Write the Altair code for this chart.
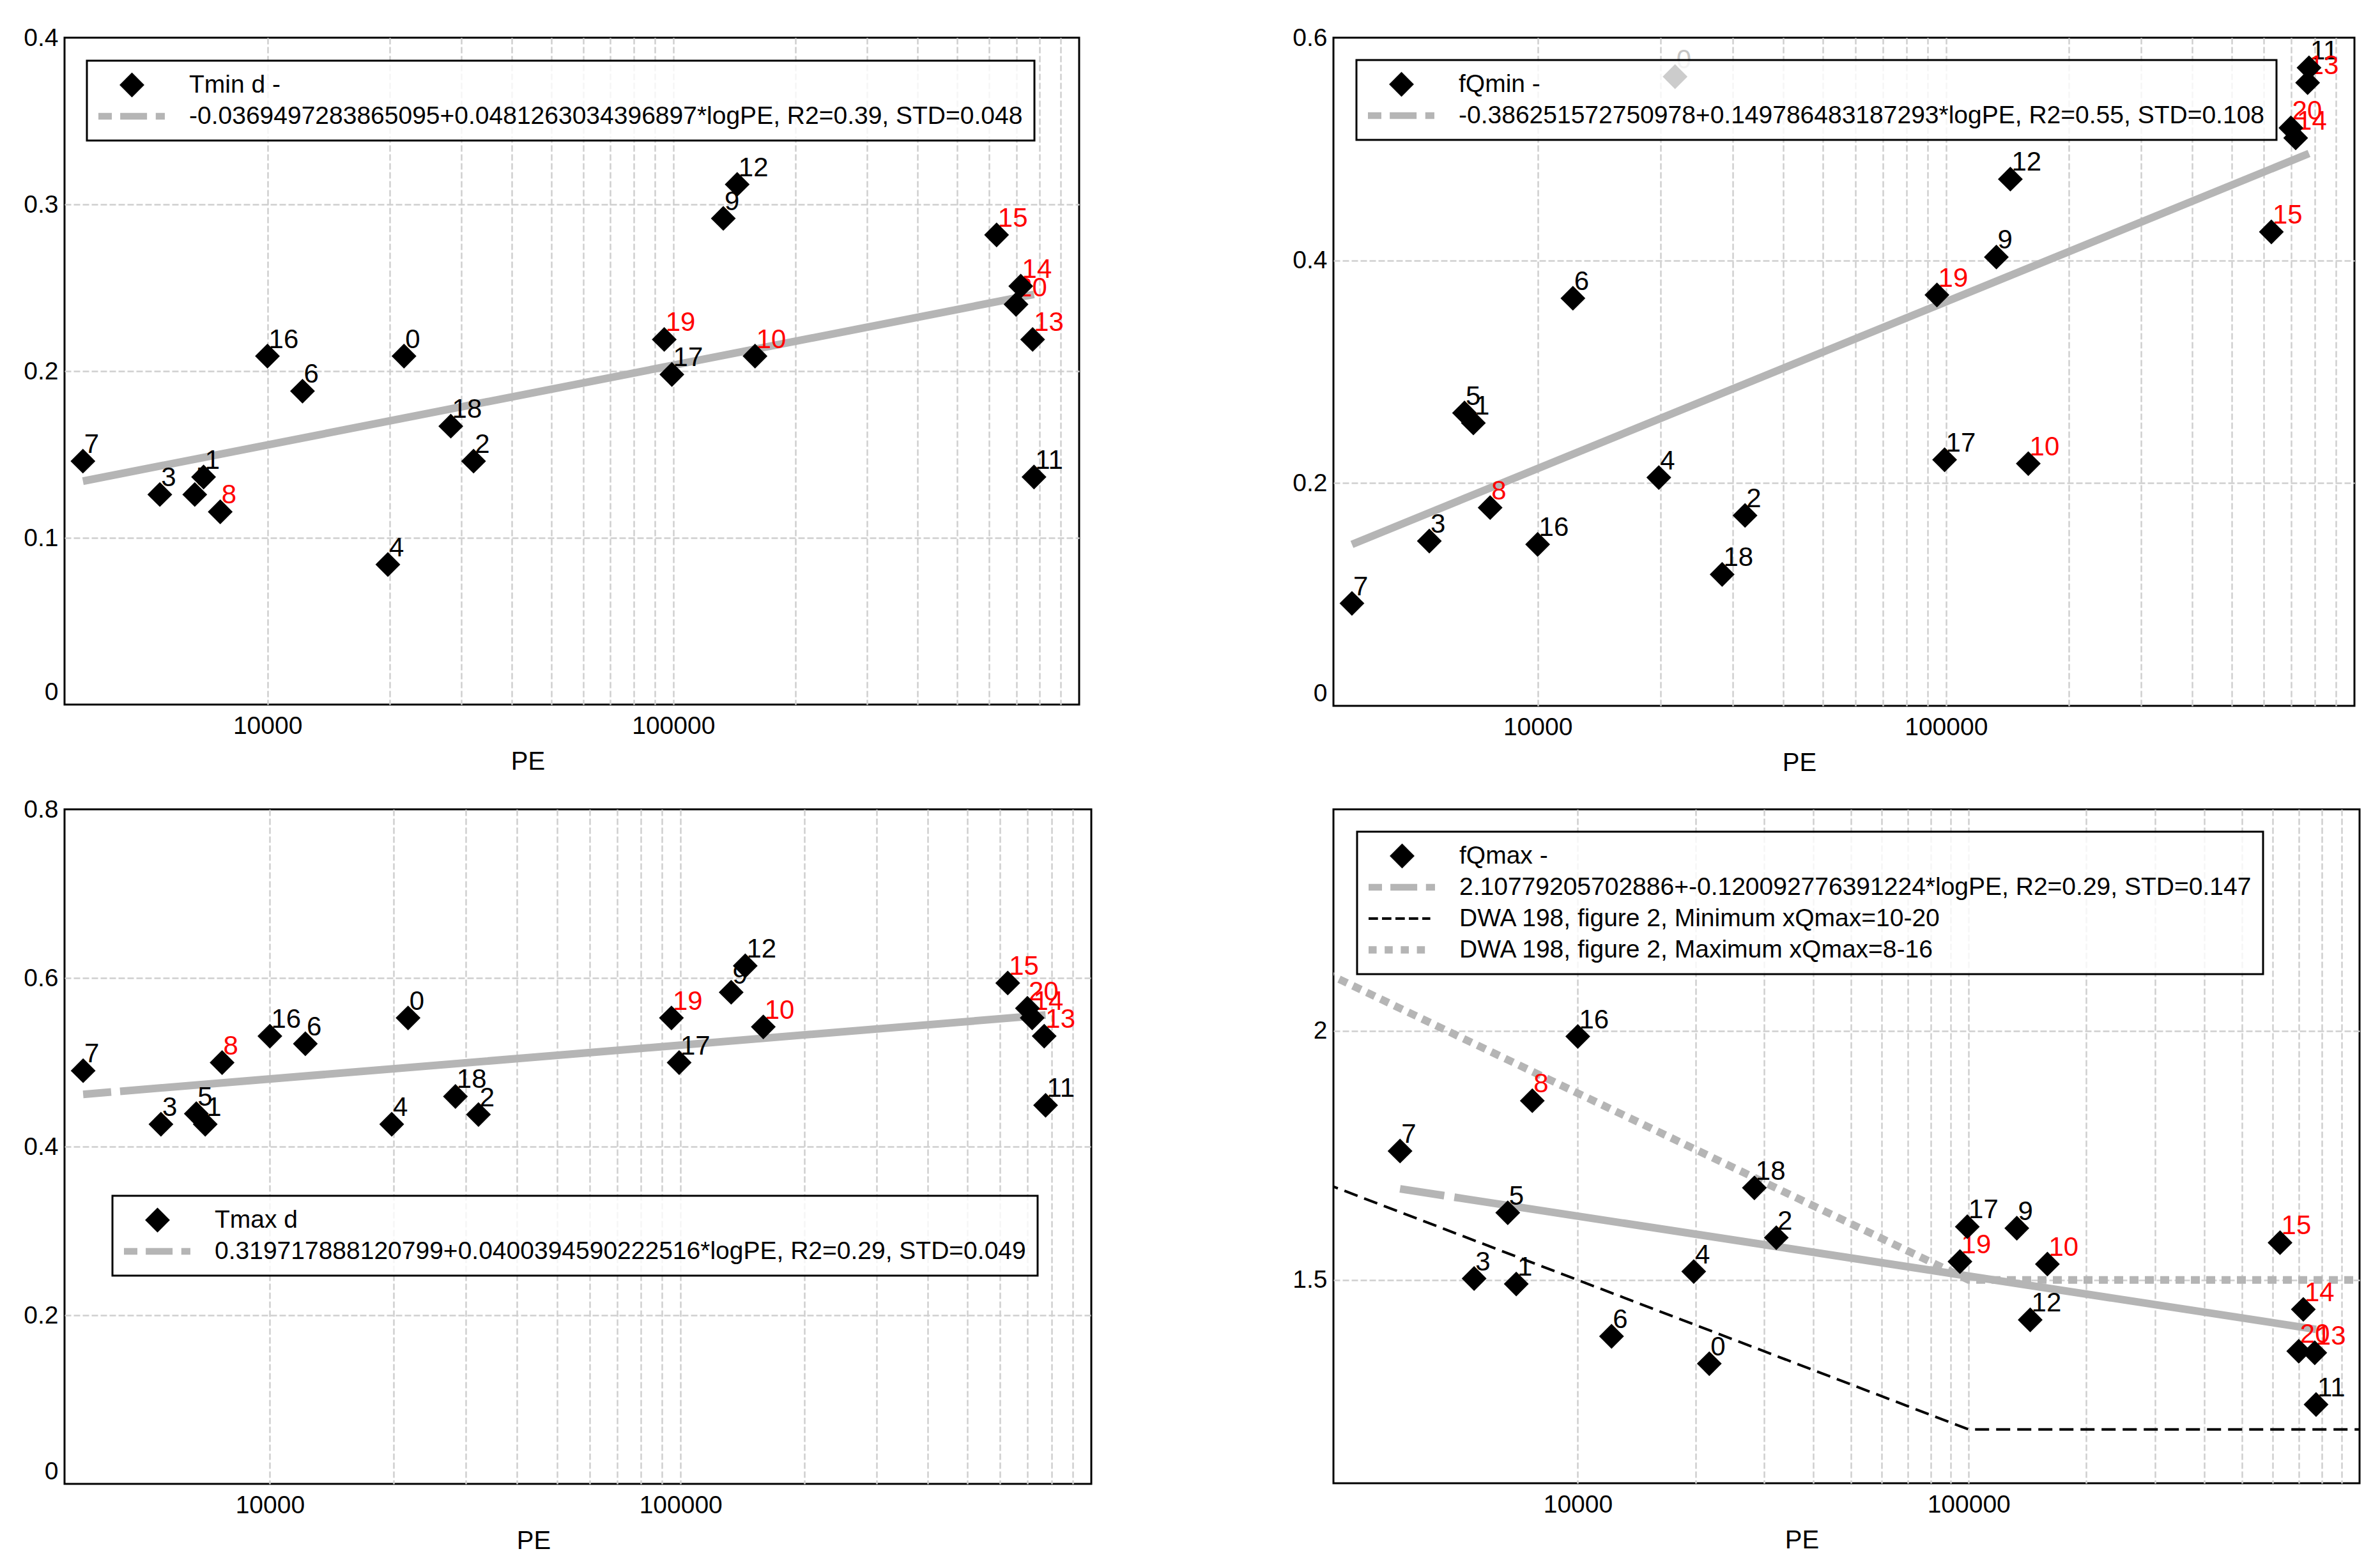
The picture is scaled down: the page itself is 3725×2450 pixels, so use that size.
import altair as alt
import pandas as pd

FONT = "Liberation Sans"
FS = 39        # ticks, titles, legend
FS_PT = 42     # point labels

# ---------------- data ----------------
ids = list(range(21))
pe = [21700, 6960, 32200, 5430, 19800, 6620, 12200, 3510, 7650, 132800, 159000,
      774000, 143700, 768000, 718000, 626000, 10000, 99200, 28300, 95000, 699000]
red_ids = [8, 10, 13, 14, 15, 19, 20]

tmin = [0.209, 0.1365, 0.146, 0.126, 0.084, 0.126, 0.188, 0.146, 0.1156, 0.2916, 0.209,
        0.1365, 0.312, 0.219, 0.251, 0.2817, 0.209, 0.198, 0.167, 0.219, 0.240]
fqmin = [0.565, 0.254, 0.171, 0.148, 0.205, 0.263, 0.366, 0.092, 0.178, 0.403, 0.2175,
         0.573, 0.473, 0.5596, 0.51, 0.4256, 0.145, 0.221, 0.118, 0.369, 0.519]
tmax = [0.5526, 0.4265, 0.438, 0.4265, 0.4265, 0.439, 0.522, 0.490, 0.4996, 0.583, 0.542,
        0.449, 0.6144, 0.531, 0.5526, 0.594, 0.531, 0.4996, 0.4595, 0.5526, 0.564]
fqmax = [1.332, 1.492, 1.585, 1.503, 1.517, 1.635, 1.387, 1.759, 1.86, 1.604, 1.532,
         1.25, 1.42, 1.354, 1.441, 1.575, 1.989, 1.607, 1.685, 1.537, 1.357]

# regression line end points (PE, value)
fit_pe = [3510, 774000]
fit_tmin = [0.134, 0.246]
fit_fqmin = [0.145, 0.496]
fit_tmax = [0.462, 0.556]
fit_fqmax = [1.683, 1.401]

# DWA 198 reference lines
dwa_pe = [1000, 100000, 1000000]
dwa_min = [1.8, 1.2, 1.2]
dwa_max = [2.25, 1.5, 1.5]

x_grid = [10000, 20000, 30000, 40000, 50000, 60000, 70000, 80000, 90000,
          100000, 200000, 300000, 400000, 500000, 600000, 700000, 800000, 900000]

leg1 = ["Tmin d -", "-0.0369497283865095+0.0481263034396897*logPE, R2=0.39, STD=0.048"]
leg2 = ["fQmin -", "-0.386251572750978+0.149786483187293*logPE, R2=0.55, STD=0.108"]
leg3 = ["Tmax d", "0.319717888120799+0.0400394590222516*logPE, R2=0.29, STD=0.049"]
leg4 = ["fQmax -", "2.10779205702886+-0.120092776391224*logPE, R2=0.29, STD=0.147",
        "DWA 198, figure 2, Minimum xQmax=10-20", "DWA 198, figure 2, Maximum xQmax=8-16"]

# ---------------- styles ----------------
GRAY = "#b5b5b5"
DIAMOND = "M0,-0.37L0.37,0L0,0.37L-0.37,0Z"
FIT_SYM = "M-1,-0.1H-0.6V0.1H-1Z M-0.35,-0.1H0.45V0.1H-0.35Z M0.71,-0.1H0.98V0.1H0.71Z"
MIN_SYM = ("M-1,-0.04H-0.72V0.04H-1Z M-0.6,-0.04H-0.32V0.04H-0.6Z M-0.2,-0.04H0.08V0.04H-0.2Z "
           "M0.2,-0.04H0.48V0.04H0.2Z M0.6,-0.04H0.84V0.04H0.6Z")
MAX_SYM = ("M-1,-0.11H-0.76V0.11H-1Z M-0.52,-0.11H-0.28V0.11H-0.52Z "
           "M-0.04,-0.11H0.2V0.11H-0.04Z M0.44,-0.11H0.68V0.11H0.44Z")


def make_panel(vals, names, shapes, colors, xdom, ydom, yticks, w, h, lx, ly,
               fit_vals, fit_dash, titlex, gray_id=None, extra=None):
    df = pd.DataFrame({
        "id": ids,
        "PE": pe,
        "v": vals,
        "label": [str(i) for i in ids],
        "lc": ["#ff0000" if i in red_ids else ("#c4c4c4" if i == gray_id else "black") for i in ids],
        "series": names[0],
    })
    xenc = alt.X(
        "PE:Q",
        scale=alt.Scale(type="log", domain=xdom, nice=False),
        axis=alt.Axis(
            values=x_grid,
            labelExpr="datum.value == 10000 || datum.value == 100000 ? format(datum.value, 'd') : ''",
            labelOverlap=False, labelFlush=False, labelPadding=14,
            title="PE", titleX=titlex, titleY=89, titleBaseline="middle", titleAlign="center",
        ),
    )
    edge_test = f"datum.value <= {ydom[0]} || datum.value >= {ydom[1]}"
    yenc = alt.Y(
        "v:Q",
        scale=alt.Scale(domain=ydom, nice=False, zero=False),
        axis=alt.Axis(
            values=yticks, title=None, format="~g", labelPadding=10, labelFlush=False,
            labelBaseline={"condition": {"test": "datum.value == 0", "value": "bottom"}, "value": "middle"},
            gridOpacity={"condition": {"test": edge_test, "value": 0}, "value": 1},
        ),
    )
    fit_df = pd.DataFrame({"PE": fit_pe, "v": fit_vals})
    layers = []
    fit_kw = dict(color=GRAY, strokeWidth=12, clip=True)
    if fit_dash:
        fit_kw["strokeDash"] = fit_dash
    layers.append(alt.Chart(fit_df).mark_line(**fit_kw).encode(x=xenc, y=yenc))
    if extra is not None:
        mn = pd.DataFrame({"PE": dwa_pe, "v": extra[0]})
        mx = pd.DataFrame({"PE": dwa_pe, "v": extra[1]})
        layers.append(alt.Chart(mn).mark_line(color="black", strokeWidth=4, strokeDash=[22, 11], clip=True)
                      .encode(x=xenc, y=yenc))
        layers.append(alt.Chart(mx).mark_line(color=GRAY, strokeWidth=12, strokeDash=[14, 10], clip=True)
                      .encode(x=xenc, y=yenc))
    layers.append(
        alt.Chart(df).mark_text(align="left", baseline="alphabetic", dx=2, dy=-13,
                                font=FONT, fontSize=FS_PT, clip=True)
        .encode(x=xenc, y=yenc, text="label:N", color=alt.Color("lc:N", scale=None))
    )
    leg = alt.Legend(
        orient="none", legendX=lx, legendY=ly, title=None,
        strokeColor="black", fillColor="rgba(255,255,255,0.8)", padding=18,
        symbolSize=11025, clipHeight=40, rowPadding=9, labelOffset=37,
        labelFont=FONT, labelFontSize=FS, labelColor="black", labelLimit=5000,
        symbolOpacity=1, symbolStrokeWidth=0,
    )
    layers.append(
        alt.Chart(df).mark_point(filled=True, opacity=1, size=11025, strokeWidth=0)
        .encode(
            x=xenc, y=yenc,
            shape=alt.Shape("series:N", scale=alt.Scale(domain=names, range=shapes), legend=leg),
            color=alt.Color("series:N", scale=alt.Scale(domain=names, range=colors), legend=leg),
        )
    )
    return alt.layer(*layers).properties(width=w, height=h)


XD1 = [3162.28, 1000000]
XD4 = [2371, 1000000]

p1 = make_panel(tmin, leg1, [DIAMOND, FIT_SYM], ["black", GRAY], XD1, [0, 0.4],
                [0, 0.1, 0.2, 0.3, 0.4], 1588, 1044, 35, 36, fit_tmin, None, 725)
p2 = make_panel(fqmin, leg2, [DIAMOND, FIT_SYM], ["black", GRAY], XD1, [0, 0.6],
                [0, 0.2, 0.4, 0.6], 1598, 1046, 36, 35, fit_fqmin, None, 729, gray_id=0)
p3 = make_panel(tmax, leg3, [DIAMOND, FIT_SYM], ["black", GRAY], XD1, [0, 0.8],
                [0, 0.2, 0.4, 0.6, 0.8], 1607, 1056, 75, 605, fit_tmax, [44, 14, 20000, 0], 734)
p4 = make_panel(fqmax, leg4, [DIAMOND, FIT_SYM, MIN_SYM, MAX_SYM], ["black", GRAY, "black", GRAY],
                XD4, [1.092, 2.445], [1.5, 2], 1606, 1055, 37, 35, fit_fqmax, [70, 16, 20000, 0], 733,
                extra=(dwa_min, dwa_max))

res = dict(color="independent", shape="independent")
top = alt.hconcat(p1, p2, spacing=330).resolve_scale(**res)
bottom = alt.hconcat(p3, p4, spacing=311).resolve_scale(**res)

chart = (
    alt.vconcat(top, bottom, spacing=30)
    .resolve_scale(**res)
    .properties(padding={"left": 27, "top": 30, "right": 10, "bottom": 10}, background="white")
    .configure(font=FONT)
    .configure_view(stroke="black", strokeWidth=3)
    .configure_axis(
        labelFont=FONT, labelFontSize=FS, labelColor="black",
        titleFont=FONT, titleFontSize=40, titleFontWeight="normal", titleColor="black",
        grid=True, gridColor="#cfcfcf", gridWidth=2.5, gridDash=[10, 4],
        domain=False, ticks=False, tickSize=0,
    )
    .configure_legend(strokeWidth=3)
)

chart.save("out.html", embed_options={"renderer": "svg", "actions": False})
